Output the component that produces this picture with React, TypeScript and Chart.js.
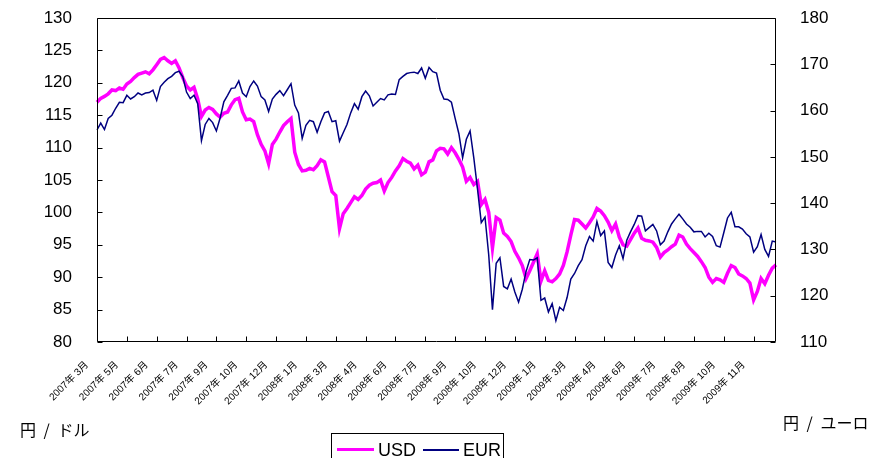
import React, { useEffect, useRef } from 'react';
import { Chart, registerables } from 'chart.js';

Chart.register(...registerables);

const tickLabels = [
  '2007年 3月', '2007年 5月', '2007年 6月', '2007年 7月', '2007年 9月', '2007年 10月', '2007年 12月',
  '2008年 1月', '2008年 3月', '2008年 4月', '2008年 6月', '2008年 7月', '2008年 9月', '2008年 10月', '2008年 12月',
  '2009年 1月', '2009年 3月', '2009年 4月', '2009年 6月', '2009年 7月', '2009年 8月', '2009年 10月', '2009年 11月',
];

const usd = [
  117.0, 117.6, 117.9, 118.3, 118.9, 118.8, 119.2, 119.0, 119.8, 120.2,
  120.8, 121.3, 121.5, 121.7, 121.4, 122.0, 122.8, 123.6, 123.9, 123.4,
  123.0, 123.4, 122.3, 120.8, 119.5, 118.9, 119.3, 117.5, 114.8, 115.8,
  116.2, 115.9, 115.2, 114.7, 115.3, 115.5, 116.6, 117.4, 117.6, 115.5,
  114.3, 114.4, 114.0, 112.0, 110.5, 109.5, 107.5, 110.5, 111.3, 112.4,
  113.4, 114.0, 114.5, 109.3, 107.4, 106.4, 106.5, 106.8, 106.6, 107.2,
  108.1, 107.8, 105.5, 103.2, 102.6, 97.5, 99.8, 100.6, 101.5, 102.4,
  102.0, 102.6, 103.6, 104.2, 104.5, 104.6, 105.0, 103.3, 104.6, 105.4,
  106.4, 107.2, 108.3, 107.9, 107.6, 106.7, 107.3, 105.8, 106.2, 107.8,
  108.1, 109.5, 109.9, 109.8, 109.0, 110.0, 109.2, 108.2, 107.0, 104.8,
  105.4, 104.3, 104.8, 101.2, 102.0, 100.0, 94.5, 99.2, 98.8, 96.8,
  96.3, 95.5, 94.0, 93.0, 91.8, 89.8, 91.0, 92.3, 93.6, 89.4,
  91.0, 89.5, 89.3, 89.8, 90.5, 91.8, 93.9, 96.5, 98.9, 98.8,
  98.2, 97.6, 98.4, 99.3, 100.6, 100.2, 99.5, 98.5, 97.2, 98.2,
  96.2, 95.0, 94.8, 95.8, 96.8, 97.6, 96.0, 95.7, 95.6, 95.4,
  94.6, 93.1, 93.8, 94.2, 94.7, 95.1, 96.5, 96.2, 95.1, 94.4,
  93.8, 93.2, 92.4, 91.5, 90.0, 89.2, 89.8, 89.6, 89.2, 90.6,
  91.8, 91.5, 90.5, 90.2, 89.8, 89.1, 86.5, 87.8, 89.8, 89.0,
  90.3, 91.4, 91.9,
];

const eur = [
  155.8, 157.3, 155.9, 158.3, 159.0, 160.5, 161.8, 161.7, 163.3, 162.5,
  163.0, 163.8, 163.4, 163.8, 163.9, 164.4, 162.2, 165.2, 166.1, 166.9,
  167.4, 168.2, 168.5, 167.3, 164.0, 162.6, 163.3, 161.5, 153.5, 157.0,
  158.3, 157.4, 155.6, 158.4, 161.9, 163.3, 164.8, 164.9, 166.4, 163.8,
  163.0, 165.2, 166.4, 165.3, 163.0, 162.3, 159.8, 162.5, 163.5, 164.3,
  163.2, 164.5, 165.8, 161.2, 159.5, 154.0, 156.8, 157.9, 157.6, 155.3,
  157.6, 159.5, 159.8, 157.6, 157.8, 153.4, 155.2, 157.0, 159.5, 161.5,
  160.3, 163.0, 164.2, 163.2, 161.0, 161.8, 162.6, 162.3, 163.4, 163.6,
  163.5, 166.7, 167.4, 168.0, 168.2, 168.3, 168.0, 169.2, 167.0, 169.3,
  168.4, 168.1, 164.4, 162.5, 162.4, 161.8, 158.3, 155.0, 149.8, 153.8,
  155.6, 149.8, 143.0, 135.8, 137.0, 128.8, 117.0, 127.0, 128.2, 122.0,
  121.5, 123.6, 120.8, 118.6, 121.4, 125.2, 127.8, 127.7, 128.2, 119.0,
  119.5, 116.5, 118.3, 114.6, 117.5, 116.8, 119.6, 123.6, 124.8, 126.5,
  127.8, 130.8, 132.8, 131.8, 136.0, 133.0, 134.0, 127.2, 126.1, 128.8,
  130.8, 128.0, 132.0, 133.8, 135.4, 137.3, 137.2, 134.0, 134.7, 135.4,
  134.0, 131.0, 131.8, 133.8, 135.5, 136.6, 137.6, 136.6, 135.5, 134.8,
  133.8, 133.9, 133.9, 132.7, 133.5, 132.8, 130.8, 130.5, 133.6, 136.8,
  138.0, 134.9, 134.9, 134.4, 133.4, 132.7, 129.4, 130.6, 133.2, 130.0,
  128.5, 131.8, 131.6,
];

const TICK_EVERY = 8;
const categories = usd.map((_, i) =>
  i % TICK_EVERY === 0 && tickLabels[i / TICK_EVERY] ? tickLabels[i / TICK_EVERY] : ''
);

const FONT = '"Liberation Sans", Arial, "Noto Sans CJK JP", sans-serif';
const CJK = '"Noto Sans CJK JP", "Liberation Sans", sans-serif';

const framePlugin = {
  id: 'frame',
  afterDatasetsDraw(chart: any) {
    const { ctx, chartArea: a, scales } = chart;
    ctx.save();
    ctx.strokeStyle = '#000';
    ctx.lineWidth = 1;
    const L = Math.round(a.left) + 0.5;
    const R = Math.round(a.right) - 0.5;
    const T = Math.round(a.top) + 0.5;
    const B = Math.round(a.bottom) - 0.5;
    ctx.beginPath();
    ctx.rect(L, T, R - L, B - T);
    ctx.stroke();
    ctx.beginPath();
    scales.y.ticks.forEach((_: any, i: number) => {
      const py = Math.round(scales.y.getPixelForTick(i)) + 0.5;
      ctx.moveTo(L, py);
      ctx.lineTo(L + 5, py);
    });
    scales.y1.ticks.forEach((_: any, i: number) => {
      const py = Math.round(scales.y1.getPixelForTick(i)) + 0.5;
      ctx.moveTo(R, py);
      ctx.lineTo(R - 5, py);
    });
    categories.forEach((c, i) => {
      if (!c) return;
      const px = Math.round(scales.x.getPixelForValue(i)) + 0.5;
      ctx.moveTo(px, B);
      ctx.lineTo(px, B - 5);
    });
    ctx.stroke();
    ctx.restore();
  },
};

export default function App() {
  const ref = useRef<HTMLCanvasElement | null>(null);

  useEffect(() => {
    if (!ref.current) return;
    const chart = new Chart(ref.current, {
      type: 'line',
      data: {
        labels: categories,
        datasets: [
          {
            label: 'USD',
            data: usd,
            yAxisID: 'y',
            borderColor: '#FF00FF',
            backgroundColor: '#FF00FF',
            borderWidth: 3.5,
            pointRadius: 0,
            tension: 0,
            order: 2,
          },
          {
            label: 'EUR',
            data: eur,
            yAxisID: 'y1',
            borderColor: '#000080',
            backgroundColor: '#000080',
            borderWidth: 1.5,
            pointRadius: 0,
            tension: 0,
            order: 1,
          },
        ],
      },
      options: {
        responsive: false,
        animation: false,
        layout: { padding: { top: 18, left: 0, right: 0, bottom: 0 } },
        plugins: { legend: { display: false }, tooltip: { enabled: false } },
        scales: {
          x: {
            type: 'category',
            grid: { display: false },
            border: { display: false },
            ticks: {
              autoSkip: false,
              minRotation: 45,
              maxRotation: 45,
              padding: 9,
              labelOffset: -10,
              color: '#000',
              font: { size: 10, family: FONT },
              callback: (_v: any, i: number) => (categories[i] ? categories[i] : null),
            },
            afterFit: (s: any) => {
              s.height = 116;
              s.paddingLeft = 0;
              s.paddingRight = 0;
            },
          },
          y: {
            position: 'left',
            min: 80,
            max: 130,
            grid: { display: false },
            border: { display: false },
            ticks: { stepSize: 5, padding: 17, color: '#000', font: { size: 17, family: FONT } },
            afterFit: (s: any) => {
              s.width = 97;
              s.paddingTop = 0;
              s.paddingBottom = 0;
            },
          },
          y1: {
            position: 'right',
            min: 110,
            max: 180,
            grid: { display: false },
            border: { display: false },
            ticks: { stepSize: 10, padding: 16, color: '#000', font: { size: 17, family: FONT } },
            afterFit: (s: any) => {
              s.width = 96;
              s.paddingTop = 0;
              s.paddingBottom = 0;
            },
          },
        },
      },
      plugins: [framePlugin],
    } as any);
    return () => chart.destroy();
  }, []);

  return (
    <div
      style={{
        position: 'fixed',
        left: 0,
        top: 0,
        width: 872,
        height: 458,
        overflow: 'hidden',
        background: '#fff',
      }}
    >
      <canvas ref={ref} width={872} height={458} style={{ display: 'block', width: 872, height: 458 }} />
      <div
        style={{
          position: 'absolute',
          left: 20,
          top: 421,
          fontFamily: CJK,
          fontSize: 16,
          lineHeight: '16px',
          whiteSpace: 'pre',
          wordSpacing: 4,
          color: '#000',
        }}
      >
        円 / ドル
      </div>
      <div
        style={{
          position: 'absolute',
          left: 783,
          top: 414,
          fontFamily: CJK,
          fontSize: 16,
          lineHeight: '16px',
          whiteSpace: 'pre',
          wordSpacing: 4,
          color: '#000',
        }}
      >
        円 / ユーロ
      </div>
      <div
        style={{
          position: 'absolute',
          left: 331,
          top: 433,
          width: 173,
          height: 40,
          border: '1px solid #000',
          boxSizing: 'border-box',
          fontFamily: FONT,
          fontSize: 18,
          color: '#000',
        }}
      >
        <div style={{ position: 'absolute', left: 5, top: 14, width: 37, height: 3, background: '#FF00FF' }} />
        <div style={{ position: 'absolute', left: 46, top: 7, lineHeight: '18px' }}>USD</div>
        <div style={{ position: 'absolute', left: 91, top: 15, width: 36, height: 1.5, background: '#000080' }} />
        <div style={{ position: 'absolute', left: 131, top: 7, lineHeight: '18px' }}>EUR</div>
      </div>
    </div>
  );
}
